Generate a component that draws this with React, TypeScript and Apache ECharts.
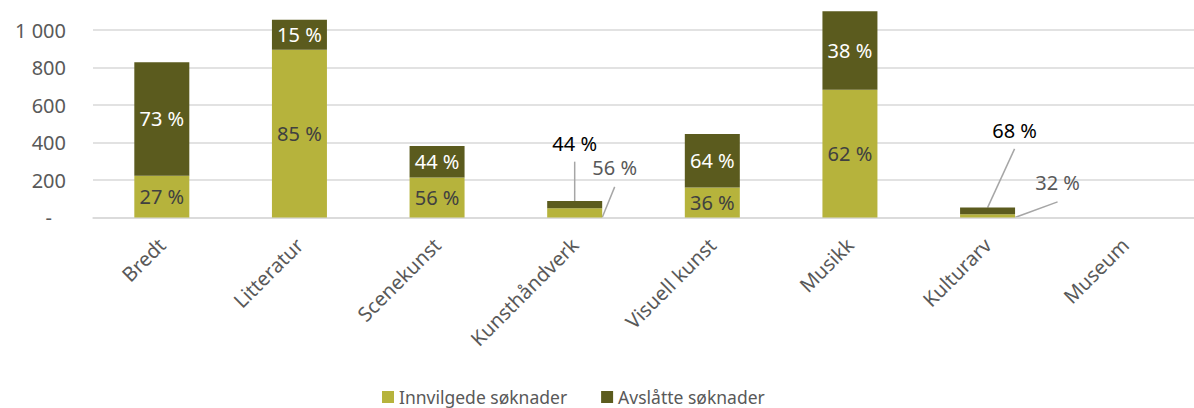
import React, { useEffect, useRef } from "react";
import * as echarts from "echarts";

const categories = ["Bredt", "Litteratur", "Scenekunst", "Kunsthåndverk", "Visuell kunst", "Musikk", "Kulturarv", "Museum"];
const innvilgede = [223, 895, 214, 49, 160, 682, 17, 0];
const avslatte = [605, 160, 168, 39, 285, 418, 36, 0];
const innvilgedePct = ["27 %", "85 %", "56 %", "56 %", "36 %", "62 %", "32 %", ""];
const avslattePct = ["73 %", "15 %", "44 %", "44 %", "64 %", "38 %", "68 %", ""];
const yTicks = [0, 200, 400, 600, 800, 1000];

const FONT = "Noto Sans";
const LIGHT = "#B6B33C";
const DARK = "#5B5B1E";
const LINE = "#a6a6a6";
const BAR_W = 55;

// label offsets for the small bars (moved outside with guide lines)
const lightMoves: Record<number, [number, number]> = { 3: [40, -45], 6: [70, -33] };
const darkMoves: Record<number, [number, number]> = { 3: [0, -61], 6: [27, -80] };

export default function App() {
  const ref = useRef<HTMLDivElement>(null);
  useEffect(() => {
    const chart = echarts.init(ref.current!, undefined, { renderer: "svg" });
    const fmtY = (v: number) => (v === 0 ? "{d|-}" : v >= 1000 ? String(v).replace(/(\d)(\d{3})$/, "$1 $2") : String(v));
    const layoutFor = (moves: Record<number, [number, number]>) => (p: any) => {
      const m = moves[p.dataIndex];
      return m ? { dx: m[0], dy: m[1] } : {};
    };
    chart.setOption({
      animation: false,
      backgroundColor: "#ffffff",
      textStyle: { fontFamily: FONT },
      grid: { left: 93, right: -13, top: 11.25, bottom: 190.5, containLabel: false },
      legend: {
        left: 377,
        top: 383,
        itemWidth: 12,
        itemHeight: 12,
        itemGap: 34,
        icon: "rect",
        textStyle: { fontFamily: FONT, fontSize: 17.5, color: "#595959" },
        data: ["Innvilgede søknader", "Avslåtte søknader"],
      },
      xAxis: {
        type: "category",
        data: categories,
        axisLine: { show: true, lineStyle: { color: "#d9d9d9", width: 1.5 } },
        axisTick: { show: false },
        axisLabel: { rotate: 45, fontFamily: FONT, fontSize: 20, color: "#595959", margin: 24, interval: 0 },
      },
      yAxis: {
        type: "value",
        min: 0,
        max: 1100,
        interval: 200,
        axisLine: { show: false },
        axisTick: { show: false },
        splitLine: {
          show: true,
          lineStyle: { color: ["#d9d9d9", "#d9d9d9", "#d9d9d9", "#d9d9d9", "#d9d9d9", "#d9d9d9", "rgba(0,0,0,0)"], width: 1.5 },
        },
        axisLabel: {
          fontFamily: FONT,
          fontSize: 20,
          color: "#595959",
          margin: 27,
          showMaxLabel: false,
          formatter: (v: number) => (yTicks.includes(v) ? fmtY(v) : ""),
          rich: { d: { fontFamily: FONT, fontSize: 20, color: "#595959", padding: [0, 14, 0, 0] } },
        },
      },
      series: [
        {
          name: "Innvilgede søknader",
          type: "bar",
          stack: "total",
          barWidth: BAR_W,
          itemStyle: { color: LIGHT },
          data: innvilgede.map((v, i) => ({
            value: v,
            label: {
              show: innvilgedePct[i] !== "",
              formatter: innvilgedePct[i],
              position: "inside",
              fontFamily: FONT,
              fontSize: 20,
              color: lightMoves[i] ? "#595959" : "#404040",
            },
          })),
          labelLayout: layoutFor(lightMoves),
        },
        {
          name: "Avslåtte søknader",
          type: "bar",
          stack: "total",
          barWidth: BAR_W,
          itemStyle: { color: DARK },
          data: avslatte.map((v, i) => ({
            value: v,
            label: {
              show: avslattePct[i] !== "",
              formatter: avslattePct[i],
              position: "inside",
              fontFamily: FONT,
              fontSize: 20,
              color: darkMoves[i] ? "#000000" : "#ffffff",
            },
          })),
          labelLayout: layoutFor(darkMoves),
        },
      ],
    });

    // guide lines for the moved labels, positioned through the chart's own scales
    const graphics: any[] = [];
    const px = (i: number, v: number) => chart.convertToPixel({ gridIndex: 0 }, [i, v]) as number[];
    Object.keys(lightMoves).forEach((k) => {
      const i = Number(k);
      const m = lightMoves[i];
      const base = px(i, 0);
      const top = px(i, innvilgede[i]);
      const lx = base[0] + m[0];
      const ly = (base[1] + top[1]) / 2 + m[1];
      graphics.push({
        type: "line",
        shape: { x1: lx, y1: ly + 19, x2: base[0] + BAR_W / 2, y2: base[1] },
        style: { stroke: LINE, lineWidth: 1.5 },
        silent: true,
      });
    });
    Object.keys(darkMoves).forEach((k) => {
      const i = Number(k);
      const m = darkMoves[i];
      const mid = px(i, innvilgede[i]);
      const top = px(i, innvilgede[i] + avslatte[i]);
      const lx = mid[0] + m[0];
      const ly = (mid[1] + top[1]) / 2 + m[1];
      graphics.push({
        type: "line",
        shape: { x1: lx, y1: ly + 18, x2: mid[0], y2: top[1] },
        style: { stroke: LINE, lineWidth: 1.5 },
        silent: true,
      });
    });
    chart.setOption({ graphic: graphics });

    return () => chart.dispose();
  }, []);
  return <div ref={ref} style={{ position: "fixed", left: 0, top: 0, width: 1194, height: 408, background: "#fff" }} />;
}
